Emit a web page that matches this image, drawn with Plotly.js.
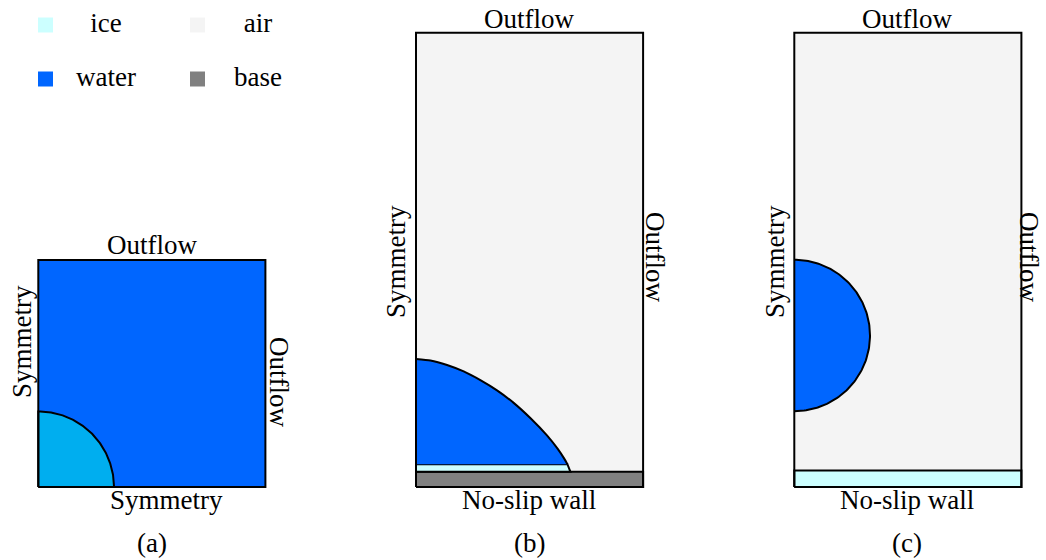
<!DOCTYPE html>
<html>
<head>
<meta charset="utf-8">
<script src="https://cdn.plot.ly/plotly-3.0.1.min.js"></script>
<style>html,body{margin:0;padding:0;background:#fff;}#chart{width:1046px;height:560px;}</style>
</head>
<body>
<div id="chart"></div>
<script>
// ---------------- data (domain units) ----------------
const legendNames = ['ice', 'air', 'water', 'base'];
const legendKeys  = ['ice', 'air', 'water', 'base'];

// panel (a): square domain, quarter ice particle in water
const domainA = [3, 3];            // width, height
const iceRadiusA = 1.0;

// panel (b): droplet on ice film on base
const domainB = [3, 6];
const baseThicknessB = 0.2;
const iceFilmThicknessB = 0.1;
const iceFilmLengthB = [2.04, 2.0];   // bottom, top of film
const dropletRadialB = [0, 0.19, 0.41, 0.63, 0.85, 1.07, 1.29, 1.52, 1.73, 1.87, 1.96, 2.0];
const dropletHeightB = [1.39, 1.37, 1.31, 1.225, 1.11, 0.975, 0.81, 0.60, 0.38, 0.205, 0.07, 0];

// panel (c): droplet in air above ice layer
const domainC = [3, 6];
const iceLayerC = 0.215;
const dropletCentreC = 2.0;
const dropletRadiusC = 1.0;

const boundaryLabels = {
  a: {top: 'Outflow', left: 'Symmetry', right: 'Outflow', bottom: 'Symmetry'},
  b: {top: 'Outflow', left: 'Symmetry', right: 'Outflow', bottom: 'No-slip wall'},
  c: {top: 'Outflow', left: 'Symmetry', right: 'Outflow', bottom: 'No-slip wall'}
};
const panelTags = ['(a)', '(b)', '(c)'];

// ---------------- styles ----------------
const colors = {ice: '#CCFFFF', iceA: '#00AEEF', water: '#0066FF', air: '#F4F4F4', base: '#808080'};
const FONT = {family: 'Liberation Serif', size: 27, color: '#000'};
const LINE = {color: '#000', width: 2};

// ---------------- layout geometry ----------------
const W = 1046, H = 560, S = 75.7, PAD = 5;
const panels = [
  {x0: 38.3, top: 260, w: domainA[0], h: domainA[1]},
  {x0: 416, top: 32.7, w: domainB[0], h: domainB[1]},
  {x0: 794.3, top: 32.7, w: domainC[0], h: domainC[1]}
];

function axisFor(p) {
  const right = p.x0 + p.w * S, bottom = p.top + p.h * S;
  const common = {visible: false, showgrid: false, zeroline: false, fixedrange: true, autorange: false};
  return {
    x: Object.assign({}, common, {domain: [(p.x0 - PAD) / W, (right + PAD) / W], range: [-PAD / S, p.w + PAD / S]}),
    y: Object.assign({}, common, {domain: [1 - (bottom + PAD) / H, 1 - (p.top - PAD) / H], range: [-PAD / S, p.h + PAD / S]})
  };
}

function rect(x0, x1, y0, y1) { return {x: [x0, x1, x1, x0, x0], y: [y0, y0, y1, y1, y0]}; }
function arc(cx, cy, r, a0, a1) {
  const xs = [], ys = [];
  const n = 120;
  for (let i = 0; i <= n; i++) {
    const t = (a0 + (a1 - a0) * i / n) * Math.PI / 180;
    xs.push(cx + r * Math.cos(t)); ys.push(cy + r * Math.sin(t));
  }
  return {x: xs, y: ys};
}

const traces = [];
function fillPoly(pts, ax, fill, withLine) {
  traces.push({type: 'scatter', mode: 'lines', x: pts.x, y: pts.y, xaxis: 'x' + ax, yaxis: 'y' + ax,
    fill: 'toself', fillcolor: fill, line: withLine ? LINE : {width: 0, color: fill}, hoverinfo: 'skip', showlegend: false});
}
function outline(pts, ax) {
  traces.push({type: 'scatter', mode: 'lines', x: pts.x, y: pts.y, xaxis: 'x' + ax, yaxis: 'y' + ax,
    line: LINE, hoverinfo: 'skip', showlegend: false});
}

// ---- panel (a)
fillPoly(rect(0, domainA[0], 0, domainA[1]), '', colors.water, false);
{
  const a = arc(0, 0, iceRadiusA, 0, 90);
  fillPoly({x: [0].concat(a.x, [0]), y: [0].concat(a.y, [0])}, '', colors.iceA, true);
}
outline(rect(0, domainA[0], 0, domainA[1]), '');

// ---- panel (b)
fillPoly(rect(0, domainB[0], 0, domainB[1]), '2', colors.air, false);
fillPoly(rect(0, domainB[0], 0, baseThicknessB), '2', colors.base, true);
{
  const y0 = baseThicknessB, y1 = baseThicknessB + iceFilmThicknessB;
  fillPoly({x: [0, iceFilmLengthB[0], iceFilmLengthB[1], 0, 0], y: [y0, y0, y1, y1, y0]}, '2', colors.ice, true);
  traces.push({type: 'scatter', mode: 'lines', x: [0, dropletRadialB[dropletRadialB.length - 1]], y: [y1, y1],
    xaxis: 'x2', yaxis: 'y2', line: {width: 0, color: colors.water}, hoverinfo: 'skip', showlegend: false});
  traces.push({type: 'scatter', mode: 'lines', x: dropletRadialB, y: dropletHeightB.map(h => h + y1),
    xaxis: 'x2', yaxis: 'y2', fill: 'tonexty', fillcolor: colors.water,
    line: {color: '#000', width: 2, shape: 'spline', smoothing: 0.5}, hoverinfo: 'skip', showlegend: false});
}
outline(rect(0, domainB[0], 0, domainB[1]), '2');

// ---- panel (c)
fillPoly(rect(0, domainC[0], 0, domainC[1]), '3', colors.air, false);
fillPoly(rect(0, domainC[0], 0, iceLayerC), '3', colors.ice, true);
fillPoly(arc(0, dropletCentreC, dropletRadiusC, -90, 90), '3', colors.water, true);
outline(rect(0, domainC[0], 0, domainC[1]), '3');

// ---- legend (2 x 2 grid)
traces.push({type: 'scatter', mode: 'markers', xaxis: 'x4', yaxis: 'y4',
  x: legendNames.map((_, i) => i % 2), y: legendNames.map((_, i) => Math.floor(i / 2)),
  marker: {symbol: 'square', size: 15, color: legendKeys.map(k => colors[k]), line: {width: 0}},
  hoverinfo: 'skip', showlegend: false});
traces.push({type: 'scatter', mode: 'text', xaxis: 'x4', yaxis: 'y4',
  x: legendNames.map((_, i) => i % 2 + 0.398), y: legendNames.map((_, i) => Math.floor(i / 2)),
  text: legendNames, textposition: 'middle center', textfont: FONT, hoverinfo: 'skip', showlegend: false});

// ---------------- annotations ----------------
function ann(text, px, py, angle) {
  return {text: text, x: px / W, y: 1 - py / H, xref: 'paper', yref: 'paper', xanchor: 'center', yanchor: 'middle',
    showarrow: false, textangle: angle || 0, font: FONT};
}
const annotations = [
  ann(boundaryLabels.a.top, 151.5, 245), ann(boundaryLabels.a.left, 22, 342, -90),
  ann(boundaryLabels.a.right, 279, 382, 90), ann(boundaryLabels.a.bottom, 166, 500),
  ann(boundaryLabels.b.top, 529, 19), ann(boundaryLabels.b.left, 396, 262, -90),
  ann(boundaryLabels.b.right, 655, 257, 90), ann(boundaryLabels.b.bottom, 529, 500),
  ann(boundaryLabels.c.top, 907, 19), ann(boundaryLabels.c.left, 775, 262, -90),
  ann(boundaryLabels.c.right, 1029, 257, 90), ann(boundaryLabels.c.bottom, 907, 500),
  ann(panelTags[0], 151.5, 543), ann(panelTags[1], 529, 543), ann(panelTags[2], 907, 543)
];

// ---------------- layout ----------------
const axA = axisFor(panels[0]), axB = axisFor(panels[1]), axC = axisFor(panels[2]);
const legendAxisCommon = {visible: false, showgrid: false, zeroline: false, fixedrange: true, autorange: false};
const layout = {
  width: W, height: H, margin: {l: 0, r: 0, t: 0, b: 0},
  paper_bgcolor: '#fff', plot_bgcolor: 'rgba(0,0,0,0)', showlegend: false, hovermode: false,
  xaxis: axA.x, yaxis: axA.y, xaxis2: axB.x, yaxis2: axB.y, xaxis3: axC.x, yaxis3: axC.y,
  xaxis4: Object.assign({}, legendAxisCommon, {domain: [0, 300 / W], range: [-45.5 / 152, (300 - 45.5) / 152]}),
  yaxis4: Object.assign({}, legendAxisCommon, {domain: [1 - 100 / H, 1], range: [(100 - 25) / 54, -25 / 54]}),
  annotations: annotations
};
Plotly.newPlot('chart', traces, layout, {displayModeBar: false, staticPlot: true});
</script>
</body>
</html>
